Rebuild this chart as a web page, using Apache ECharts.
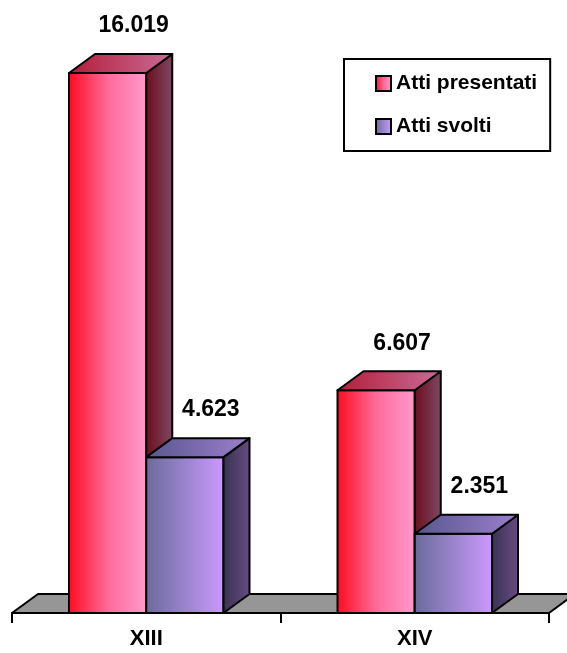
<!DOCTYPE html>
<html>
<head>
<meta charset="utf-8">
<script src="https://cdn.jsdelivr.net/npm/echarts@6/dist/echarts.min.js"></script>
<style>
  html, body { margin: 0; padding: 0; background: #ffffff; }
  #chart { width: 567px; height: 653px; }
</style>
</head>
<body>
<div id="chart"></div>
<script>
// Legislature and per-series counts
const categories = ['XIII', 'XIV'];
const seriesNames = ['Atti presentati', 'Atti svolti'];
const attiPresentati = [16019, 6607];
const attiSvolti = [4623, 2351];

// 3D extrusion offset of each box (px)
const DX = 26;
const DY = -19;
const BAR_RATIO = 0.2877;      // bar width as share of a category band
const FONT = '"Liberation Sans", Arial, Helvetica, sans-serif';

const LG = echarts.graphic.LinearGradient;
const palettes = [
  {
    front: ['#ff0a1e', '#ff6a9a', '#ff9bcd'],
    side: ['#6c0c1c', '#7e4a66'],
    top: ['#b41c38', '#c96c98']
  },
  {
    front: ['#6a6a9a', '#9a84cc', '#cc99ff'],
    side: ['#363250', '#6a4c84'],
    top: ['#58568e', '#9c80cc']
  }
];

function grad(cols) {
  const n = cols.length - 1;
  return new LG(0, 0, 1, 0, cols.map((c, i) => ({ offset: i / n, color: c })));
}

function fmt(v) {
  return String(v).replace(/\B(?=(\d{3})+(?!\d))/g, '.');
}

function boxRenderer(pos, pal) {
  return function (params, api) {
    const c = api.value(0);
    const v = api.value(1);
    const base = api.coord([c, 0]);
    const top = api.coord([c, v]);
    const band = api.size([1, 0])[0];
    const w = band * BAR_RATIO;
    const x0 = base[0] + (pos === 0 ? -w : 0);
    const x1 = x0 + w;
    const yb = base[1];
    const yt = top[1];
    const stroke = { stroke: '#000', lineWidth: 2, lineJoin: 'round' };
    return {
      type: 'group',
      children: [
        {
          type: 'polygon',
          shape: { points: [[x0, yt], [x1, yt], [x1, yb], [x0, yb]] },
          style: Object.assign({ fill: grad(pal.front) }, stroke)
        },
        {
          type: 'polygon',
          shape: { points: [[x1, yt], [x1 + DX, yt + DY], [x1 + DX, yb + DY], [x1, yb]] },
          style: Object.assign({ fill: grad(pal.side) }, stroke)
        },
        {
          type: 'polygon',
          shape: { points: [[x0, yt], [x0 + DX, yt + DY], [x1 + DX, yt + DY], [x1, yt]] },
          style: Object.assign({ fill: grad(pal.top) }, stroke)
        },
        {
          type: 'text',
          x: (x0 + x1) / 2 + DX,
          y: yt + DY - 28,
          style: {
            text: fmt(v),
            fill: '#000',
            font: 'bold 23px ' + FONT,
            align: 'center',
            verticalAlign: 'middle'
          }
        }
      ]
    };
  };
}

function floorRenderer(params, api) {
  const band = api.size([1, 0])[0];
  const left = api.coord([0, 0]);
  const right = api.coord([categories.length - 1, 0]);
  const xl = left[0] - band / 2;
  const xr = right[0] + band / 2;
  const y = left[1];
  return {
    type: 'polygon',
    shape: { points: [[xl, y], [xr, y], [xr + DX, y + DY], [xl + DX, y + DY]] },
    style: { fill: '#969696', stroke: '#000', lineWidth: 2, lineJoin: 'round' }
  };
}

const chart = echarts.init(document.getElementById('chart'), null, { renderer: 'canvas' });

chart.setOption({
  animation: false,
  backgroundColor: '#ffffff',
  grid: { left: 12, right: 18, top: 6.2, bottom: 40 },
  xAxis: {
    type: 'category',
    data: categories,
    boundaryGap: true,
    axisLine: { show: true, lineStyle: { color: '#000', width: 2 } },
    axisTick: { show: true, length: 10, lineStyle: { color: '#000', width: 2 } },
    axisLabel: { margin: 15, color: '#000', fontSize: 22, fontWeight: 'bold', fontFamily: FONT },
    splitLine: { show: false }
  },
  yAxis: {
    type: 'value',
    min: 0,
    max: 18000,
    show: false
  },
  legend: {
    orient: 'vertical',
    left: 344,
    top: 59,
    padding: [14, 13, 14, 31],
    itemGap: 22,
    itemWidth: 15,
    itemHeight: 15,
    itemStyle: { borderColor: '#000', borderWidth: 2 },
    borderColor: '#000',
    borderWidth: 2,
    borderRadius: 0,
    backgroundColor: '#fff',
    textStyle: { color: '#000', fontSize: 21, fontWeight: 'bold', fontFamily: FONT },
    data: [
      { name: seriesNames[0], icon: 'rect', itemStyle: { color: grad(palettes[0].front) } },
      { name: seriesNames[1], icon: 'rect', itemStyle: { color: grad(palettes[1].front) } }
    ]
  },
  series: [
    {
      type: 'custom',
      name: 'floor',
      renderItem: floorRenderer,
      data: [[0, 0]],
      silent: true,
      z: 1
    },
    {
      type: 'custom',
      name: seriesNames[0],
      renderItem: boxRenderer(0, palettes[0]),
      data: attiPresentati.map((v, i) => [i, v]),
      encode: { x: 0, y: 1 },
      z: 2
    },
    {
      type: 'custom',
      name: seriesNames[1],
      renderItem: boxRenderer(1, palettes[1]),
      data: attiSvolti.map((v, i) => [i, v]),
      encode: { x: 0, y: 1 },
      z: 3
    }
  ]
});
</script>
</body>
</html>
